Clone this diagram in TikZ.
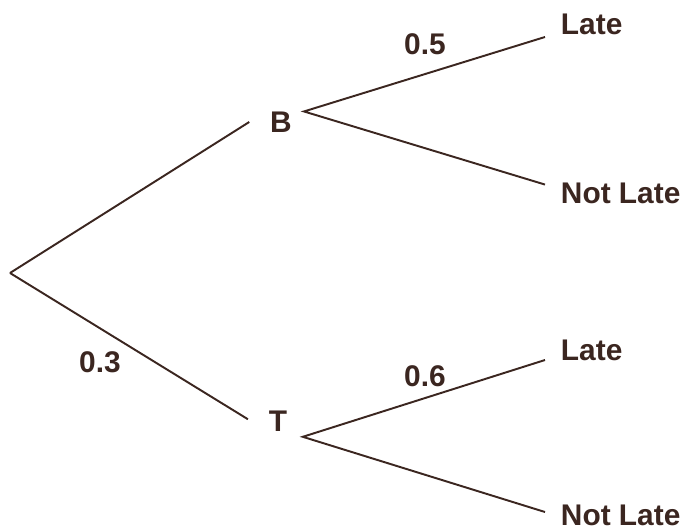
\documentclass[tikz,border=0pt]{standalone}
\usepackage{fontspec}
\setmainfont{Liberation Sans}
\usepackage{xcolor}
\usepackage{tikz}
\usetikzlibrary{positioning}
\definecolor{treebrown}{HTML}{3B2620}

\begin{document}
\begin{tikzpicture}[x=0.02cm, y=-0.02cm, line width=1.1pt, draw=treebrown,
  every node/.style={text=treebrown, font=\fontsize{17}{20}\selectfont\bfseries},
  pick/.style={inner xsep=0.4cm, inner ysep=2pt},
  leaf/.style={anchor=west, inner xsep=0.3cm, inner ysep=2pt},
  prob/.style={inner sep=1pt}]
  \useasboundingbox (0,0) rectangle (691,530);
  \coordinate (root) at (10,273);
  \node[pick] (B) at (281,122) {B};
  \node[pick] (T) at (278,421) {T};
  \node[leaf] (BL) at (545,24) {Late};
  \node[leaf] (BN) at (545,193) {Not Late};
  \node[leaf] (TL) at (545,350) {Late};
  \node[leaf] (TN) at (545,515) {Not Late};
  \node[prob] (pB) at (425,44) {0.5};
  \node[prob] (pT) at (100,362) {0.3};
  \node[prob] (pTL) at (425,376) {0.6};
  \draw (root) -- (B.west);
  \draw (root) -- ([yshift=1pt]T.west);
  \draw ([yshift=-7.4pt]BL.west) -- ([shift={(-5pt,6pt)}]B.east) -- ([yshift=4.8pt]BN.west);
  \draw ([yshift=-5.7pt]TL.west) -- ([shift={(-3pt,-9pt)}]T.east) -- ([yshift=1.7pt]TN.west);
\end{tikzpicture}
\end{document}
